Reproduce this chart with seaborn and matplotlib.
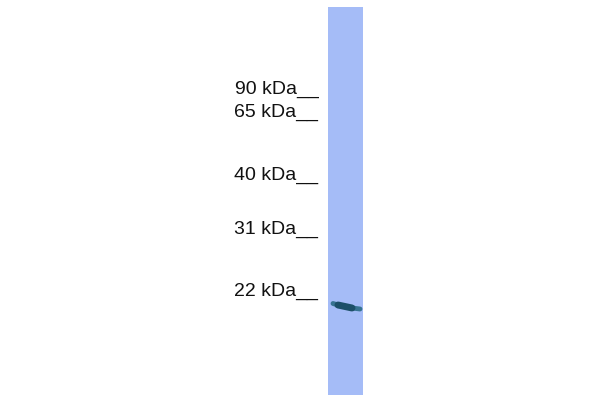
import seaborn as sns
import pandas as pd
import matplotlib.pyplot as plt

# marker ladder (label, distance from top of lane in px)
marker_labels = ['90 kDa', '65 kDa', '40 kDa', '31 kDa', '22 kDa']
marker_pos = [80, 103.5, 166, 220.5, 282]

# detected band (~20 kDa), traced across the lane
band_x = [5, 10, 17, 24, 32]
band_y = [296.5, 298, 299.5, 301, 302]

sns.set_style('white')
plt.rcParams['font.family'] = ['Liberation Sans', 'DejaVu Sans']

fig = plt.figure(figsize=(6, 4), dpi=100)
ax = fig.add_axes([328 / 600, 5 / 400, 35 / 600, 388 / 400])
ax.set_facecolor('#a5bcf7')

band_df = pd.DataFrame({'x': band_x, 'y': band_y})
sns.lineplot(data=band_df, x='x', y='y', ax=ax, color='#2b6b86',
             linewidth=3.5, solid_capstyle='round', alpha=0.9)
sns.lineplot(data=band_df.iloc[1:4], x='x', y='y', ax=ax, color='#1c4f68',
             linewidth=5, solid_capstyle='round')

ax.set_xlim(0, 35)
ax.set_ylim(388, 0)
ax.set_xticks([])
ax.set_yticks(marker_pos, [m + '__' for m in marker_labels])
ax.tick_params(axis='y', length=0, pad=7, labelsize=14, labelcolor='#111111')
ax.set_xlabel('')
ax.set_ylabel('')
for s in ax.spines.values():
    s.set_visible(False)

fig.savefig('out.png', dpi=100)
